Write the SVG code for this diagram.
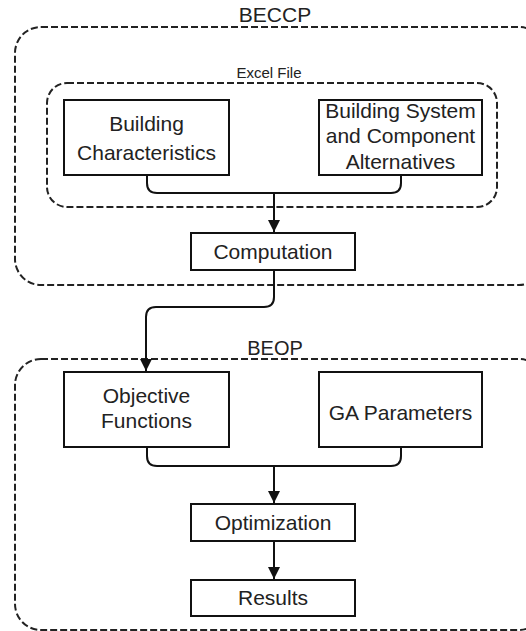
<svg xmlns="http://www.w3.org/2000/svg" width="526" height="631" viewBox="0 0 526 631">
<defs>
<marker id="arr" markerWidth="12" markerHeight="12" refX="12" refY="6" orient="auto" markerUnits="userSpaceOnUse" viewBox="0 0 12 12">
<path d="M0,0 L12,6 L0,12 Z" fill="#111"/>
</marker>
</defs>
<style>
.cont{fill:none;stroke:#222;stroke-width:2;stroke-dasharray:7 3}
.box{fill:#fff;stroke:#111;stroke-width:2}
.t{font-family:"Liberation Sans",Arial,sans-serif;font-size:21px;fill:#222;text-anchor:middle}
.lbl{font-family:"Liberation Sans",Arial,sans-serif;fill:#222;text-anchor:middle}
.c{fill:none;stroke:#111;stroke-width:2}
</style>
<rect width="526" height="631" fill="#fff"/>
<g id="beccp">
<rect class="cont" x="15" y="27" width="530" height="258" rx="26" ry="26"/>
<text class="lbl" x="275" y="22" font-size="21">BECCP</text>
</g>
<g id="excel-file">
<rect class="cont" x="47" y="83" width="450" height="124" rx="20" ry="20"/>
<text class="lbl" x="269" y="78" font-size="15">Excel File</text>
</g>
<g id="beop">
<rect class="cont" x="15" y="359" width="530" height="271" rx="26" ry="26"/>
<text class="lbl" x="275" y="355" font-size="20">BEOP</text>
</g>
<g id="connectors">
<path class="c" d="M147,175 V183 Q147,193 157,193 H391 Q401,193 401,183 V175"/>
<path class="c" d="M274,193 V232" marker-end="url(#arr)"/>
<path class="c" d="M274,270 V297 Q274,307 264,307 H156 Q146,307 146,317 V371" marker-end="url(#arr)"/>
<path class="c" d="M147,447 V456 Q147,466 157,466 H391 Q401,466 401,456 V447"/>
<path class="c" d="M274,466 V503" marker-end="url(#arr)"/>
<path class="c" d="M274,541 V579" marker-end="url(#arr)"/>
</g>
<g id="building-characteristics">
<rect class="box" x="64" y="100" width="165" height="75"/>
<text class="t" x="146.5" y="131">Building</text>
<text class="t" x="146.5" y="160">Characteristics</text>
</g>
<g id="building-system">
<rect class="box" x="319" y="100" width="163" height="75"/>
<text class="t" x="400.5" y="118">Building System</text>
<text class="t" x="400.5" y="143">and Component</text>
<text class="t" x="400.5" y="169">Alternatives</text>
</g>
<g id="computation">
<rect class="box" x="191" y="233" width="164" height="37"/>
<text class="t" x="273" y="259">Computation</text>
</g>
<g id="objective-functions">
<rect class="box" x="64" y="372" width="165" height="75"/>
<text class="t" x="146.5" y="403">Objective</text>
<text class="t" x="146.5" y="428">Functions</text>
</g>
<g id="ga-parameters">
<rect class="box" x="319" y="372" width="163" height="75"/>
<text class="t" x="400.5" y="420">GA Parameters</text>
</g>
<g id="optimization">
<rect class="box" x="191" y="504" width="164" height="37"/>
<text class="t" x="273" y="530">Optimization</text>
</g>
<g id="results">
<rect class="box" x="191" y="580" width="164" height="36"/>
<text class="t" x="273" y="605">Results</text>
</g>
</svg>
